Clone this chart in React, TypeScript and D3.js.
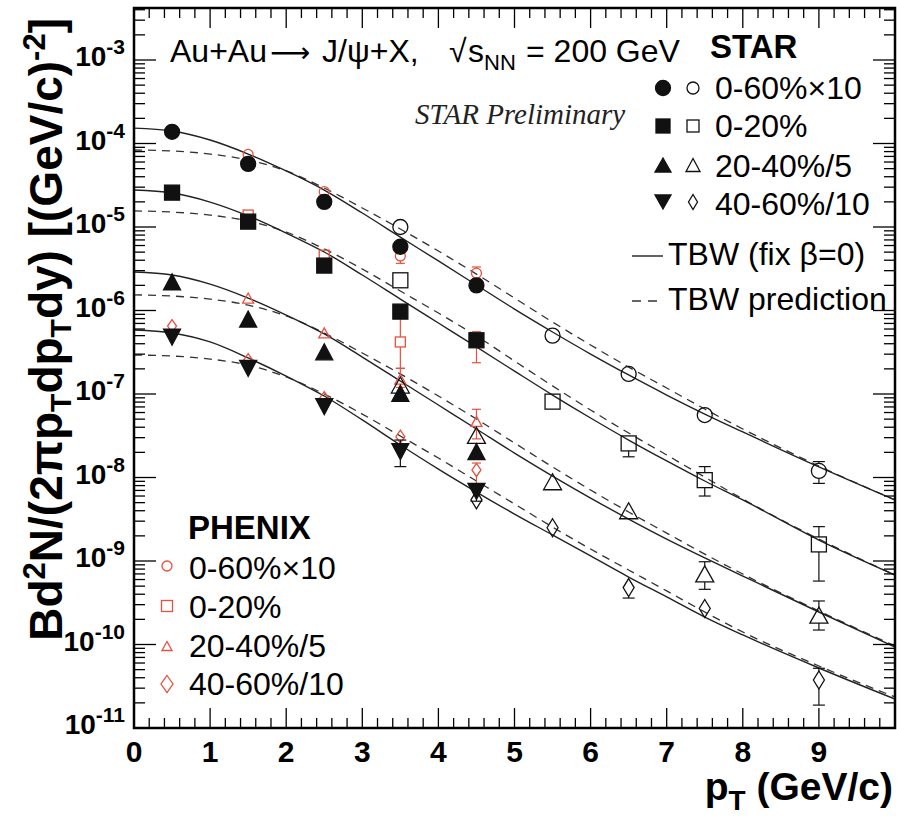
import React from 'react';
import * as d3 from 'd3';

// pT grid on which the model curves are tabulated (GeV/c)
const PT_GRID = [0, 0.5, 1, 1.5, 2, 2.5, 3, 3.5, 4, 4.5, 5, 5.5, 6, 6.5, 7, 7.5, 8, 9, 10];

// TBW (fix beta=0) fits, solid
const tbwFix060 = [1.53e-4, 1.41e-4, 1.10e-4, 7.48e-5, 4.69e-5, 2.77e-5, 1.47e-5, 7.58e-6, 3.92e-6, 2.02e-6, 1.04e-6, 5.53e-7, 3.01e-7, 1.69e-7, 9.72e-8, 5.75e-8, 3.51e-8, 1.34e-8, 5.38e-9];
const tbwFix020 = [2.77e-5, 2.55e-5, 1.99e-5, 1.36e-5, 8.47e-6, 5.02e-6, 2.66e-6, 1.37e-6, 7.08e-7, 3.66e-7, 1.88e-7, 9.72e-8, 5.16e-8, 2.81e-8, 1.58e-8, 9.08e-9, 5.38e-9, 1.78e-9, 6.79e-10];
const tbwFix2040 = [2.89e-6, 2.66e-6, 2.07e-6, 1.41e-6, 8.83e-7, 5.24e-7, 2.77e-7, 1.43e-7, 7.38e-8, 3.81e-8, 1.96e-8, 1.04e-8, 5.67e-9, 3.18e-9, 1.83e-9, 1.09e-9, 6.61e-10, 2.45e-10, 9.33e-11];
const tbwFix4060 = [5.83e-7, 5.38e-7, 4.20e-7, 2.70e-7, 1.64e-7, 9.46e-8, 4.89e-8, 2.45e-8, 1.26e-8, 6.70e-9, 3.65e-9, 2.05e-9, 1.15e-9, 6.43e-10, 3.71e-10, 2.13e-10, 1.30e-10, 5.23e-11, 2.22e-11];

// TBW predictions, dashed
const tbwPred060 = [8.36e-5, 8.13e-5, 7.48e-5, 6.34e-5, 4.69e-5, 2.93e-5, 1.69e-5, 9.46e-6, 5.16e-6, 2.73e-6, 1.41e-6, 7.28e-7, 3.86e-7, 2.10e-7, 1.18e-7, 6.61e-8, 3.81e-8, 1.37e-8, 5.38e-9];
const tbwPred020 = [1.56e-5, 1.51e-5, 1.39e-5, 1.18e-5, 8.71e-6, 5.46e-6, 3.14e-6, 1.71e-6, 9.33e-7, 4.96e-7, 2.48e-7, 1.25e-7, 6.43e-8, 3.41e-8, 1.86e-8, 1.01e-8, 5.53e-9, 1.83e-9, 6.79e-10];
const tbwPred2040 = [1.54e-6, 1.49e-6, 1.37e-6, 1.16e-6, 8.59e-7, 5.38e-7, 3.10e-7, 1.74e-7, 9.46e-8, 5.02e-8, 2.59e-8, 1.34e-8, 7.08e-9, 3.86e-9, 2.16e-9, 1.21e-9, 6.98e-10, 2.52e-10, 9.59e-11];
const tbwPred4060 = [2.93e-7, 2.85e-7, 2.62e-7, 2.22e-7, 1.60e-7, 1.00e-7, 5.75e-8, 3.14e-8, 1.71e-8, 9.08e-9, 4.82e-9, 2.55e-9, 1.39e-9, 7.80e-10, 4.38e-10, 2.45e-10, 1.41e-10, 5.53e-11, 2.35e-11];

type Pt = { pt: number; v: number; lo?: number; hi?: number };

// STAR, low-pT measurement (filled symbols)
const star060Filled: Pt[] = [
  { pt: 0.5, v: 1.38e-4 }, { pt: 1.5, v: 5.7e-5 }, { pt: 2.5, v: 2.0e-5 }, { pt: 3.5, v: 5.8e-6 }, { pt: 4.5, v: 2.0e-6 },
];
const star020Filled: Pt[] = [
  { pt: 0.5, v: 2.58e-5 }, { pt: 1.5, v: 1.16e-5 }, { pt: 2.5, v: 3.45e-6 }, { pt: 3.5, v: 9.7e-7 }, { pt: 4.5, v: 4.4e-7 },
];
const star2040Filled: Pt[] = [
  { pt: 0.5, v: 2.2e-6 }, { pt: 1.5, v: 7.9e-7, lo: 7.2e-7, hi: 9.0e-7 }, { pt: 2.5, v: 3.2e-7 }, { pt: 3.5, v: 1.02e-7 }, { pt: 4.5, v: 2.04e-8, lo: 1.7e-8, hi: 2.5e-8 },
];
const star4060Filled: Pt[] = [
  { pt: 0.5, v: 4.8e-7 }, { pt: 1.5, v: 2.03e-7 }, { pt: 2.5, v: 7.05e-8 }, { pt: 3.5, v: 2.04e-8, lo: 1.35e-8, hi: 2.81e-8 }, { pt: 4.5, v: 6.8e-9, lo: 5.2e-9, hi: 8.0e-9 },
];

// STAR, high-pT measurement (open symbols)
const star060Open: Pt[] = [
  { pt: 3.5, v: 1.0e-5 }, { pt: 5.5, v: 5.0e-7, lo: 4.6e-7, hi: 5.4e-7 }, { pt: 6.5, v: 1.74e-7, lo: 1.5e-7, hi: 1.9e-7 },
  { pt: 7.5, v: 5.6e-8, lo: 4.75e-8, hi: 6.4e-8 }, { pt: 9, v: 1.2e-8, lo: 8.5e-9, hi: 1.55e-8 },
];
const star020Open: Pt[] = [
  { pt: 3.5, v: 2.3e-6 }, { pt: 5.5, v: 8.1e-8, lo: 7.2e-8, hi: 9.0e-8 }, { pt: 6.5, v: 2.56e-8, lo: 1.77e-8, hi: 3.0e-8 },
  { pt: 7.5, v: 9.3e-9, lo: 6.0e-9, hi: 1.35e-8 }, { pt: 9, v: 1.58e-9, lo: 5.75e-10, hi: 2.58e-9 },
];
const star2040Open: Pt[] = [
  { pt: 3.5, v: 1.28e-7 }, { pt: 4.5, v: 3.2e-8 }, { pt: 5.5, v: 8.9e-9 }, { pt: 6.5, v: 4.0e-9, lo: 3.6e-9, hi: 4.5e-9 },
  { pt: 7.5, v: 7.0e-10, lo: 4.58e-10, hi: 9.8e-10 }, { pt: 9, v: 2.25e-10, lo: 1.49e-10, hi: 3.32e-10 },
];
const star4060Open: Pt[] = [
  { pt: 4.5, v: 5.4e-9, lo: 4.4e-9, hi: 6.2e-9 }, { pt: 5.5, v: 2.5e-9 }, { pt: 6.5, v: 4.8e-10, lo: 3.6e-10, hi: 5.6e-10 },
  { pt: 7.5, v: 2.7e-10, lo: 2.3e-10, hi: 3.2e-10 }, { pt: 9, v: 3.76e-11, lo: 1.88e-11, hi: 5.19e-11 },
];

// PHENIX (red open symbols)
const phenix060: Pt[] = [
  { pt: 1.5, v: 7.4e-5, lo: 6.9e-5, hi: 8.0e-5 }, { pt: 2.5, v: 2.65e-5, lo: 2.45e-5, hi: 2.9e-5 },
  { pt: 3.5, v: 4.5e-6, lo: 3.67e-6, hi: 5.4e-6 }, { pt: 4.5, v: 2.8e-6, lo: 2.4e-6, hi: 3.32e-6 },
];
const phenix020: Pt[] = [
  { pt: 1.5, v: 1.39e-5, lo: 1.3e-5, hi: 1.5e-5 }, { pt: 2.5, v: 4.6e-6, lo: 4.3e-6, hi: 5.0e-6 },
  { pt: 3.5, v: 4.2e-7, lo: 2.03e-7, hi: 8.5e-7 }, { pt: 4.5, v: 4.3e-7, lo: 2.37e-7, hi: 5.57e-7 },
];
const phenix2040: Pt[] = [
  { pt: 1.5, v: 1.41e-6 }, { pt: 2.5, v: 5.4e-7 }, { pt: 3.5, v: 1.51e-7, lo: 1.2e-7, hi: 2.03e-7 }, { pt: 4.5, v: 4.7e-8, lo: 2.9e-8, hi: 6.56e-8 },
];
const phenix4060: Pt[] = [
  { pt: 0.5, v: 6.5e-7 }, { pt: 1.5, v: 2.55e-7 }, { pt: 2.5, v: 8.95e-8 }, { pt: 3.5, v: 3.08e-8, lo: 2.6e-8, hi: 3.5e-8 }, { pt: 4.5, v: 1.23e-8, lo: 7.5e-9, hi: 1.49e-8 },
];

const STAR_LABELS = ['0-60%\u00d710', '0-20%', '20-40%/5', '40-60%/10'];
const MODEL_LABELS = ['TBW (fix \u03b2=0)', 'TBW prediction'];
const X_TICKS = [0, 1, 2, 3, 4, 5, 6, 7, 8, 9];
const Y_EXPONENTS = [-11, -10, -9, -8, -7, -6, -5, -4, -3];

const RED = '#e9503e';
const INK = '#111';
const SANS = '"Liberation Sans", Arial, Helvetica, sans-serif';

type Shape = 'circle' | 'square' | 'tri' | 'tridown' | 'diamond';

function Marker({ shape, cx, cy, w, h, filled, color, sw = 1.3 }: {
  shape: Shape; cx: number; cy: number; w: number; h: number; filled: boolean; color: string; sw?: number;
}) {
  const fill = filled ? color : 'none';
  const stroke = color;
  if (shape === 'circle') return <circle cx={cx} cy={cy} r={w / 2} fill={fill} stroke={stroke} strokeWidth={sw} />;
  if (shape === 'square') return <rect x={cx - w / 2} y={cy - h / 2} width={w} height={h} fill={fill} stroke={stroke} strokeWidth={sw} />;
  let pts: [number, number][];
  if (shape === 'tri') pts = [[cx, cy - h / 2], [cx + w / 2, cy + h / 2], [cx - w / 2, cy + h / 2]];
  else if (shape === 'tridown') pts = [[cx, cy + h / 2], [cx + w / 2, cy - h / 2], [cx - w / 2, cy - h / 2]];
  else pts = [[cx, cy - h / 2], [cx + w / 2, cy], [cx, cy + h / 2], [cx - w / 2, cy]];
  return <polygon points={pts.map(p => p.join(',')).join(' ')} fill={fill} stroke={stroke} strokeWidth={sw} strokeLinejoin="miter" />;
}

export default function App() {
  const X0 = 134, X1 = 895, Y0 = 8, Y1 = 728;
  const x = d3.scaleLinear().domain([0, 10]).range([X0, X1]);
  const y = d3.scaleLog().domain([1e-11, 1e-3]).range([Y1, 60]);

  const line = d3.line<[number, number]>().x(d => x(d[0])).y(d => y(d[1])).curve(d3.curveMonotoneX);
  const curve = (vals: number[]) => line(PT_GRID.map((p, i) => [p, vals[i]] as [number, number])) || '';

  // axis ticks
  const xMinor = d3.range(1, 50).map(i => i * 0.2).filter(v => Math.abs(v - Math.round(v)) > 1e-6);
  const yMinor: number[] = [];
  Y_EXPONENTS.forEach(e => {
    for (let m = 2; m <= 9; m++) {
      const v = m * Math.pow(10, e);
      if (y(v) > Y0 + 1) yMinor.push(v);
    }
  });

  const renderSeries = (data: Pt[], shape: Shape, filled: boolean, color: string, w: number, h: number, capW: number, key: string) => (
    <g key={key}>
      {data.map((d, i) => {
        const cx = x(d.pt), cy = y(d.v);
        const parts: JSX.Element[] = [];
        if (d.hi !== undefined) {
          const yh = y(d.hi);
          if (yh < cy - h / 2) {
            parts.push(<line key="h" x1={cx} x2={cx} y1={cy - h / 2} y2={yh} stroke={color} strokeWidth={1.2} />);
            parts.push(<line key="hc" x1={cx - capW / 2} x2={cx + capW / 2} y1={yh} y2={yh} stroke={color} strokeWidth={1.2} />);
          }
        }
        if (d.lo !== undefined) {
          const yl = y(d.lo);
          if (yl > cy + h / 2) {
            parts.push(<line key="l" x1={cx} x2={cx} y1={cy + h / 2} y2={yl} stroke={color} strokeWidth={1.2} />);
            parts.push(<line key="lc" x1={cx - capW / 2} x2={cx + capW / 2} y1={yl} y2={yl} stroke={color} strokeWidth={1.2} />);
          }
        }
        return (
          <g key={i}>
            {parts}
            <Marker shape={shape} cx={cx} cy={cy} w={w} h={h} filled={filled} color={color} />
          </g>
        );
      })}
    </g>
  );

  const fits = [tbwFix060, tbwFix020, tbwFix2040, tbwFix4060];
  const preds = [tbwPred060, tbwPred020, tbwPred2040, tbwPred4060];

  const starLegendRows = [
    { y: 88, base: 99, fShape: 'circle' as Shape, oShape: 'circle' as Shape, fw: 15, fh: 15, ow: 12, oh: 12 },
    { y: 126, base: 137, fShape: 'square' as Shape, oShape: 'square' as Shape, fw: 14, fh: 14, ow: 12, oh: 12 },
    { y: 165, base: 177, fShape: 'tri' as Shape, oShape: 'tri' as Shape, fw: 16, fh: 14, ow: 14, oh: 13 },
    { y: 202, base: 215, fShape: 'tridown' as Shape, oShape: 'diamond' as Shape, fw: 16, fh: 14, ow: 9, oh: 15 },
  ];
  const phenixLegendRows = [
    { y: 566, base: 579, shape: 'circle' as Shape, w: 10, h: 10 },
    { y: 606, base: 618, shape: 'square' as Shape, w: 11, h: 11 },
    { y: 646, base: 657, shape: 'tri' as Shape, w: 10, h: 9 },
    { y: 684, base: 695, shape: 'diamond' as Shape, w: 12, h: 17 },
  ];

  return (
    <div style={{ position: 'absolute', left: 0, top: 0 }}>
      <svg width={897} height={818} viewBox="0 0 897 818" style={{ display: 'block', background: '#fff' }} fontFamily={SANS}>
        <defs>
          <clipPath id="plotArea">
            <rect x={X0} y={Y0} width={X1 - X0} height={Y1 - Y0} />
          </clipPath>
        </defs>
        <rect x={0} y={0} width={897} height={818} fill="#fff" />

        {/* model curves */}
        <g clipPath="url(#plotArea)" fill="none">
          {preds.map((p, i) => (
            <path key={'p' + i} d={curve(p)} stroke="#333" strokeWidth={1.3} strokeDasharray="8 6" />
          ))}
          {fits.map((f, i) => (
            <path key={'f' + i} d={curve(f)} stroke="#222" strokeWidth={1.4} />
          ))}
        </g>

        {/* PHENIX points */}
        {renderSeries(phenix060, 'circle', false, RED, 10, 10, 9, 'ph1')}
        {renderSeries(phenix020, 'square', false, RED, 10, 10, 9, 'ph2')}
        {renderSeries(phenix2040, 'tri', false, RED, 11, 10, 9, 'ph3')}
        {renderSeries(phenix4060, 'diamond', false, RED, 9, 13, 9, 'ph4')}

        {/* STAR points */}
        {renderSeries(star060Open, 'circle', false, INK, 15, 15, 12, 'so1')}
        {renderSeries(star020Open, 'square', false, INK, 15, 15, 12, 'so2')}
        {renderSeries(star2040Open, 'tri', false, INK, 18, 16, 12, 'so3')}
        {renderSeries(star4060Open, 'diamond', false, INK, 11, 18, 12, 'so4')}
        {renderSeries(star060Filled, 'circle', true, INK, 15, 15, 12, 'sf1')}
        {renderSeries(star020Filled, 'square', true, INK, 15, 15, 12, 'sf2')}
        {renderSeries(star2040Filled, 'tri', true, INK, 17, 16, 12, 'sf3')}
        {renderSeries(star4060Filled, 'tridown', true, INK, 17, 16, 12, 'sf4')}

        {/* frame and ticks */}
        <g stroke="#000" strokeWidth={1.3}>
          {X_TICKS.map(t => (
            <g key={'xt' + t}>
              <line x1={x(t)} x2={x(t)} y1={Y1} y2={Y1 - 20} />
              <line x1={x(t)} x2={x(t)} y1={Y0} y2={Y0 + 20} />
            </g>
          ))}
          {xMinor.map(t => (
            <g key={'xm' + t}>
              <line x1={x(t)} x2={x(t)} y1={Y1} y2={Y1 - 10} />
              <line x1={x(t)} x2={x(t)} y1={Y0} y2={Y0 + 10} />
            </g>
          ))}
          {Y_EXPONENTS.map(e => (
            <g key={'yt' + e}>
              <line x1={X0} x2={X0 + 22} y1={y(Math.pow(10, e))} y2={y(Math.pow(10, e))} />
              <line x1={X1} x2={X1 - 22} y1={y(Math.pow(10, e))} y2={y(Math.pow(10, e))} />
            </g>
          ))}
          {yMinor.map((v, i) => (
            <g key={'ym' + i}>
              <line x1={X0} x2={X0 + 11} y1={y(v)} y2={y(v)} />
              <line x1={X1} x2={X1 - 11} y1={y(v)} y2={y(v)} />
            </g>
          ))}
        </g>
        <rect x={X0} y={Y0} width={X1 - X0} height={Y1 - Y0} fill="none" stroke="#000" strokeWidth={2.5} />

        {/* tick labels */}
        <g fontWeight="bold" fill="#000">
          {X_TICKS.map(t => (
            <text key={'xl' + t} x={x(t)} y={762} fontSize={30} textAnchor="middle">{t}</text>
          ))}
          {Y_EXPONENTS.map(e => (
            <text key={'yl' + e} x={125} y={y(Math.pow(10, e)) + 6} fontSize={28} textAnchor="end">
              10<tspan fontSize={21} dy={-12}>{String(e)}</tspan>
            </text>
          ))}
        </g>

        {/* axis titles */}
        <text x={893} y={800} fontSize={39} fontWeight="bold" textAnchor="end">
          p<tspan fontSize={28} dy={10}>T</tspan><tspan dy={-10}> (GeV/c)</tspan>
        </text>
        <text transform="translate(62,18) rotate(-90)" fontSize={46} fontWeight="bold" textAnchor="end">
          Bd<tspan fontSize={31} dy={-17}>2</tspan><tspan dy={17}>N/(2{'\u03c0'}p</tspan><tspan fontSize={30} dy={9}>T</tspan><tspan dy={-9}>dp</tspan><tspan fontSize={30} dy={9}>T</tspan><tspan dy={-9}>dy) [(GeV/c)</tspan><tspan fontSize={31} dy={-17}>-2</tspan><tspan dy={17}>]</tspan>
        </text>

        {/* header */}
        <text y={62} fontSize={32} fill="#000">
          <tspan x={170}>Au+Au</tspan>
          <tspan x={270} fontFamily='"DejaVu Sans", sans-serif' fontSize={28}>{'\u27f6'}</tspan>
          <tspan x={322}>J/{'\u03c8'}+X,</tspan>
          <tspan x={449}>{'\u221a'}</tspan>
          <tspan x={468}>s</tspan>
          <tspan fontSize={22} dy={8}>NN</tspan>
          <tspan x={526} dy={-8}>= 200 GeV</tspan>
        </text>
        <text x={415} y={124} fontSize={29} fontStyle="italic" fontFamily='"Liberation Serif", "Times New Roman", serif' fill="#222">STAR Preliminary</text>

        {/* STAR legend */}
        <text x={710} y={58} fontSize={33} fontWeight="bold">STAR</text>
        {starLegendRows.map((r, i) => (
          <g key={'sl' + i}>
            <Marker shape={r.fShape} cx={663} cy={r.y} w={r.fw} h={r.fh} filled color={INK} />
            <Marker shape={r.oShape} cx={693} cy={r.y} w={r.ow} h={r.oh} filled={false} color={INK} />
            <text x={715} y={r.base} fontSize={32}>{STAR_LABELS[i]}</text>
          </g>
        ))}
        <line x1={632} x2={663} y1={256} y2={256} stroke="#222" strokeWidth={1.4} />
        <text x={668} y={265} fontSize={32}>{MODEL_LABELS[0]}</text>
        <line x1={632} x2={663} y1={301} y2={301} stroke="#333" strokeWidth={1.3} strokeDasharray="9 7" />
        <text x={668} y={310} fontSize={32}>{MODEL_LABELS[1]}</text>

        {/* PHENIX legend */}
        <text x={188} y={539} fontSize={33} fontWeight="bold">PHENIX</text>
        {phenixLegendRows.map((r, i) => (
          <g key={'pl' + i}>
            <Marker shape={r.shape} cx={167} cy={r.y} w={r.w} h={r.h} filled={false} color={RED} />
            <text x={189} y={r.base} fontSize={32}>{STAR_LABELS[i]}</text>
          </g>
        ))}
      </svg>
    </div>
  );
}
